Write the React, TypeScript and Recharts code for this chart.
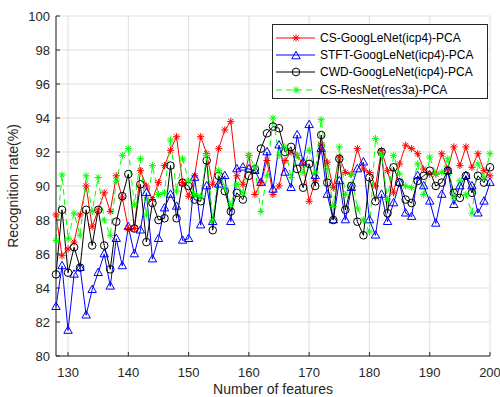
import React from 'react';
import { LineChart, Line, XAxis, YAxis, CartesianGrid, Legend } from 'recharts';

const features = [
  128, 129, 130, 131, 132, 133, 134, 135, 136, 137, 138, 139, 140, 141, 142, 143, 144, 145, 146, 147,
  148, 149, 150, 151, 152, 153, 154, 155, 156, 157, 158, 159, 160, 161, 162, 163, 164, 165, 166, 167,
  168, 169, 170, 171, 172, 173, 174, 175, 176, 177, 178, 179, 180, 181, 182, 183, 184, 185, 186, 187,
  188, 189, 190, 191, 192, 193, 194, 195, 196, 197, 198, 199, 200,
];

const csGoogLeNet = [
  88.3, 85.9, 86.3, 86.7, 88.3, 90.0, 87.6, 88.6, 89.6, 88.5, 90.6, 89.3, 87.5, 87.5, 90.9, 90.0, 89.2, 90.2, 91.2, 92.1,
  92.9, 90.2, 89.4, 90.6, 92.9, 91.9, 90.1, 92.2, 93.3, 93.8, 90.6, 90.1, 91.8, 89.5, 90.2, 91.5, 89.5, 90.0, 91.5, 92.0,
  91.8, 91.3, 89.1, 90.3, 92.4, 91.4, 89.9, 91.7, 90.8, 90.7, 92.2, 91.0, 90.8, 90.0, 92.1, 90.9, 89.6, 91.3, 92.4, 92.2,
  91.9, 91.0, 90.7, 90.7, 91.9, 91.0, 92.3, 91.2, 92.3, 91.1, 91.9, 90.9, 90.6,
];

const stftGoogLeNet = [
  82.9, 85.3, 81.5, 84.8, 85.2, 82.4, 83.9, 84.9, 86.0, 84.1, 86.9, 85.3, 87.6, 86.0, 87.4, 89.6, 85.7, 86.9, 88.7, 89.5,
  88.8, 86.8, 86.9, 90.5, 87.7, 90.0, 87.9, 90.1, 90.6, 87.9, 91.0, 91.1, 91.0, 90.9, 90.2, 92.0, 89.8, 92.4, 90.8, 89.9,
  93.0, 91.4, 93.6, 90.6, 92.2, 89.5, 88.0, 90.3, 88.0, 89.9, 91.0, 91.4, 88.0, 87.1, 89.5, 87.9, 89.0, 90.2, 88.4, 88.2,
  90.6, 90.0, 89.1, 87.8, 89.5, 90.9, 88.9, 90.0, 90.6, 90.0, 88.4, 89.1, 90.2,
];

const cwdGoogLeNet = [
  84.8, 88.6, 84.9, 86.4, 85.2, 88.6, 86.5, 88.6, 86.5, 85.1, 87.9, 89.4, 90.7, 87.5, 90.1, 86.7, 89.0, 88.0, 88.1, 91.2,
  88.1, 90.2, 90.0, 89.2, 89.1, 91.5, 87.4, 90.6, 89.7, 88.5, 89.6, 89.2, 90.6, 91.0, 92.2, 93.1, 93.5, 93.4, 92.0, 92.3,
  91.0, 89.9, 91.3, 90.0, 93.0, 90.2, 88.0, 91.6, 88.6, 90.0, 87.9, 87.1, 90.5, 89.1, 92.0, 88.4, 91.1, 90.2, 89.2, 89.0,
  90.3, 90.6, 90.9, 90.0, 90.2, 90.9, 89.6, 89.3, 90.6, 89.6, 90.6, 90.2, 91.1,
];

const csResNet = [
  86.8, 90.65, 86.9, 88.4, 87.1, 90.6, 88.5, 90.5, 88.0, 87.1, 90.3, 91.8, 92.2, 88.9, 91.6, 88.3, 91.2, 89.5, 89.6, 92.7,
  89.7, 91.6, 90.3, 89.5, 89.4, 91.8, 88.0, 90.9, 89.9, 88.9, 90.1, 89.6, 91.8, 91.1, 88.5, 90.6, 94.0, 91.8, 92.3, 90.5,
  91.8, 90.8, 92.1, 90.8, 93.9, 91.0, 88.8, 92.3, 89.5, 90.7, 88.7, 88.0, 87.3, 92.8, 91.8, 89.2, 91.8, 90.7, 90.0, 89.9,
  91.3, 89.5, 91.7, 90.7, 90.8, 91.6, 89.3, 90.3, 89.5, 88.4, 91.3, 90.5, 91.9,
];

const xTicks = [130, 140, 150, 160, 170, 180, 190, 200];
const yTicks = [80, 82, 84, 86, 88, 90, 92, 94, 96, 98, 100];

const seriesNames = [
  'CS-GoogLeNet(icp4)-PCA',
  'STFT-GoogLeNet(icp4)-PCA',
  'CWD-GoogLeNet(icp4)-PCA',
  'CS-ResNet(res3a)-PCA',
];

const data = features.map((f, i) => ({
  x: f,
  cs: csGoogLeNet[i],
  stft: stftGoogLeNet[i],
  cwd: cwdGoogLeNet[i],
  res: csResNet[i],
}));

const FONT = '"Liberation Sans", Arial, Helvetica, sans-serif';
const AXIS = '#262626';

const Star = ({ cx, cy, color }: any) => {
  const s = 3.6;
  const d = s * 0.72;
  return (
    <g stroke={color} strokeWidth={1} fill="none">
      <line x1={cx - s} y1={cy} x2={cx + s} y2={cy} />
      <line x1={cx} y1={cy - s} x2={cx} y2={cy + s} />
      <line x1={cx - d} y1={cy - d} x2={cx + d} y2={cy + d} />
      <line x1={cx - d} y1={cy + d} x2={cx + d} y2={cy - d} />
    </g>
  );
};

const Tri = ({ cx, cy, color }: any) => (
  <polygon
    points={`${cx},${cy - 4.6} ${cx - 4.2},${cy + 2.8} ${cx + 4.2},${cy + 2.8}`}
    fill="none"
    stroke={color}
    strokeWidth={1}
  />
);

const Circ = ({ cx, cy, color }: any) => (
  <circle cx={cx} cy={cy} r={3.8} fill="none" stroke={color} strokeWidth={1} />
);

const BottomTick = (props: any) => {
  const { x, y, payload } = props;
  return (
    <g>
      <line x1={x} y1={y} x2={x} y2={y - 4} stroke={AXIS} strokeWidth={1} />
      <text x={x} y={y + 21} textAnchor="middle" fontSize={13} fill={AXIS} fontFamily={FONT}>
        {payload.value}
      </text>
    </g>
  );
};

const LeftTick = (props: any) => {
  const { x, y, payload } = props;
  return (
    <g>
      <line x1={x} y1={y} x2={x + 4} y2={y} stroke={AXIS} strokeWidth={1} />
      <text x={x - 6} y={y + 4.5} textAnchor="end" fontSize={13} fill={AXIS} fontFamily={FONT}>
        {payload.value}
      </text>
    </g>
  );
};

const TopTick = (props: any) => {
  const { x, y } = props;
  return <line x1={x} y1={y} x2={x} y2={y + 4} stroke={AXIS} strokeWidth={1} />;
};

const RightTick = (props: any) => {
  const { x, y } = props;
  return <line x1={x} y1={y} x2={x - 4} y2={y} stroke={AXIS} strokeWidth={1} />;
};

const legendItems = [
  { name: seriesNames[0], color: '#ff0000', marker: 'star', dash: undefined },
  { name: seriesNames[1], color: '#0000ff', marker: 'tri', dash: undefined },
  { name: seriesNames[2], color: '#000000', marker: 'circ', dash: undefined },
  { name: seriesNames[3], color: '#00ff00', marker: 'star', dash: '6 4' },
];

const LegendBox = () => (
  <div
    style={{
      border: `1px solid ${AXIS}`,
      background: '#fff',
      boxSizing: 'border-box',
      width: 216,
      height: 75,
      paddingTop: 4,
      fontFamily: FONT,
      fontSize: 12,
      color: '#000',
    }}
  >
    {legendItems.map((it) => (
      <div key={it.name} style={{ display: 'flex', alignItems: 'center', height: 17.4 }}>
        <svg width={44} height={16} style={{ marginLeft: 1 }}>
          <line x1={2} y1={8} x2={41} y2={8} stroke={it.color} strokeWidth={1} strokeDasharray={it.dash} />
          {it.marker === 'star' && <Star cx={22} cy={8} color={it.color} />}
          {it.marker === 'tri' && <Tri cx={22} cy={9} color={it.color} />}
          {it.marker === 'circ' && <Circ cx={22} cy={8} color={it.color} />}
        </svg>
        <span style={{ marginLeft: 2, whiteSpace: 'nowrap' }}>{it.name}</span>
      </div>
    ))}
  </div>
);

export default function App() {
  return (
    <div style={{ position: 'absolute', left: 0, top: 0, width: 500, height: 397, background: '#fff' }}>
      <LineChart width={500} height={397} data={data} margin={{ top: 16, right: 10, bottom: 11, left: 0 }}>
        <CartesianGrid stroke="#dfdfdf" strokeWidth={1} />
        <XAxis
          dataKey="x"
          type="number"
          domain={[128, 200]}
          ticks={xTicks}
          height={30}
          tickSize={0}
          tickMargin={0}
          tick={<BottomTick />}
          tickLine={false}
          axisLine={{ stroke: AXIS, strokeWidth: 1 }}
          interval={0}
        />
        <XAxis
          xAxisId="top"
          orientation="top"
          dataKey="x"
          type="number"
          domain={[128, 200]}
          ticks={xTicks}
          height={0}
          tickSize={0}
          tickMargin={0}
          tick={<TopTick />}
          tickLine={false}
          axisLine={{ stroke: AXIS, strokeWidth: 1 }}
          interval={0}
        />
        <YAxis
          type="number"
          domain={[80, 100]}
          ticks={yTicks}
          width={56}
          tickSize={0}
          tickMargin={0}
          tick={<LeftTick />}
          tickLine={false}
          axisLine={{ stroke: AXIS, strokeWidth: 1 }}
          interval={0}
        />
        <YAxis
          yAxisId="right"
          orientation="right"
          type="number"
          domain={[80, 100]}
          ticks={yTicks}
          width={0}
          tickSize={0}
          tickMargin={0}
          tick={<RightTick />}
          tickLine={false}
          axisLine={{ stroke: AXIS, strokeWidth: 1 }}
          interval={0}
        />
        <Line
          dataKey="cs"
          name={seriesNames[0]}
          stroke="#ff0000"
          strokeWidth={1}
          isAnimationActive={false}
          dot={(p: any) => <Star key={`cs-${p.index}`} cx={p.cx} cy={p.cy} color="#ff0000" />}
          activeDot={false}
        />
        <Line
          dataKey="stft"
          name={seriesNames[1]}
          stroke="#0000ff"
          strokeWidth={1}
          isAnimationActive={false}
          dot={(p: any) => <Tri key={`st-${p.index}`} cx={p.cx} cy={p.cy} color="#0000ff" />}
          activeDot={false}
        />
        <Line
          dataKey="cwd"
          name={seriesNames[2]}
          stroke="#000000"
          strokeWidth={1}
          isAnimationActive={false}
          dot={(p: any) => <Circ key={`cw-${p.index}`} cx={p.cx} cy={p.cy} color="#000000" />}
          activeDot={false}
        />
        <Line
          dataKey="res"
          name={seriesNames[3]}
          stroke="#00ff00"
          strokeWidth={1}
          strokeDasharray="6 4"
          isAnimationActive={false}
          dot={(p: any) => <Star key={`rs-${p.index}`} cx={p.cx} cy={p.cy} color="#00ff00" />}
          activeDot={false}
        />
        <Legend
          layout="vertical"
          align="center"
          verticalAlign="middle"
          content={() => <LegendBox />}
          wrapperStyle={{ position: 'absolute', left: 272, top: 24, width: 216, height: 75 }}
        />
        <text
          x={273}
          y={394}
          textAnchor="middle"
          fontSize={14}
          fill={AXIS}
          fontFamily={FONT}
        >
          Number of features
        </text>
        <text
          x={18}
          y={186}
          textAnchor="middle"
          fontSize={14}
          fill={AXIS}
          fontFamily={FONT}
          transform="rotate(-90 18 186)"
        >
          Recognition rate(%)
        </text>
      </LineChart>
    </div>
  );
}
